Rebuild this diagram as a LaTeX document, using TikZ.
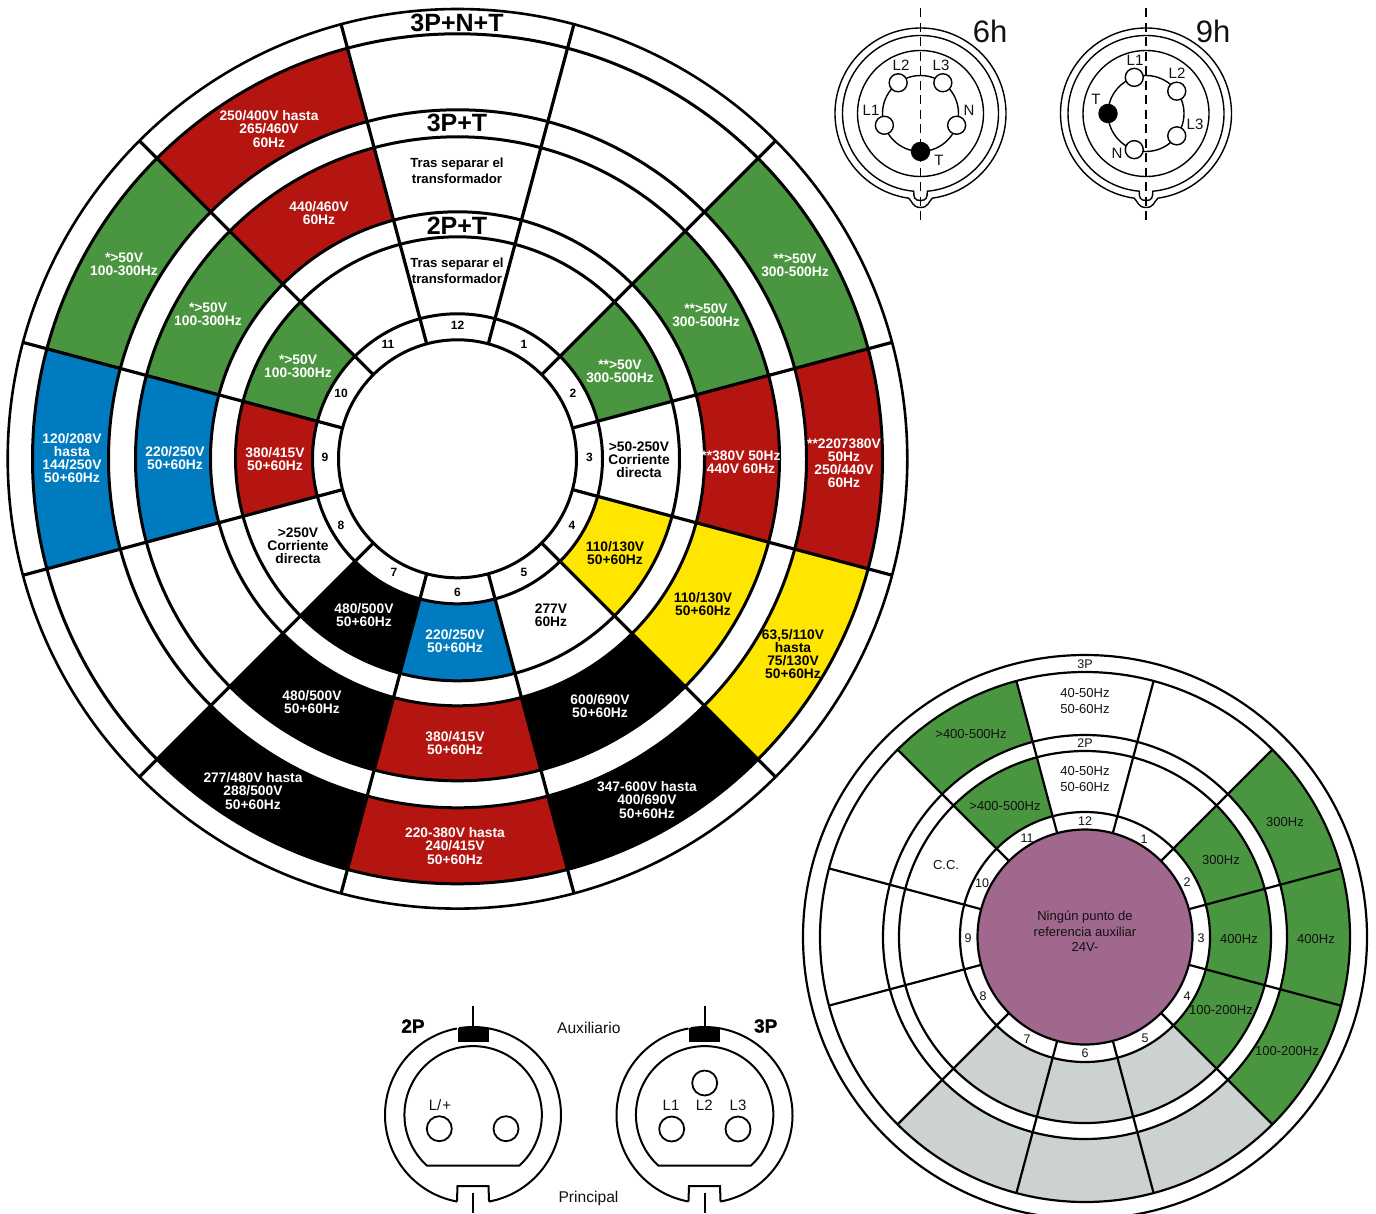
\documentclass[tikz,border=0pt]{standalone}
\usepackage{fontspec}
\setmainfont{Liberation Sans}
\newfontfamily\heavyfont[UprightFont={* Bold},FakeBold=1.6]{Liberation Sans}
\usetikzlibrary{positioning}
\definecolor{red}{HTML}{B51511}
\definecolor{green}{HTML}{4A953F}
\definecolor{blue}{HTML}{007BC0}
\definecolor{yellow}{HTML}{FFE600}
\definecolor{grey}{HTML}{CCD2CF}
\definecolor{mauve}{HTML}{A0688D}
\definecolor{ink}{HTML}{111111}

\begin{document}
\begin{tikzpicture}[
  x=1pt, y=1pt,
  ring/.style={draw=black, line width=3pt},
  ray/.style={draw=black, line width=3.2pt},
  thinring/.style={draw=black, line width=2.2pt},
  thinray/.style={draw=black, line width=2.2pt},
  wire/.style={draw=black, line width=1.4pt},
  plug/.style={draw=black, line width=2pt},
  contact/.style={circle, draw=black, fill=white, line width=1.4pt, minimum size=18pt, inner sep=0pt},
  bigpin/.style={circle, draw=black, fill=white, line width=1.8pt, minimum size=25pt, inner sep=0pt},
  txt/.style={align=center, inner sep=0pt, font=\fontsize{13.8}{13.1}\selectfont\bfseries},
  wl/.style={txt, text=white},
  bl/.style={txt, text=black},
  sep/.style={align=center, inner sep=0pt, font=\fontsize{13.2}{16}\selectfont\bfseries},
  head/.style={inner sep=0pt, font=\fontsize{25}{25}\selectfont\bfseries},
  num/.style={inner sep=0pt, font=\fontsize{12}{12}\selectfont\bfseries},
  sm/.style={align=center, inner sep=0pt, text=ink, font=\fontsize{13}{15.5}\selectfont},
  smnum/.style={inner sep=0pt, text=ink, font=\fontsize{12.5}{13}\selectfont},
  pinlab/.style={inner sep=0pt, text=ink, font=\fontsize{15}{15}\selectfont},
  side/.style={inner sep=0pt, text=ink, font=\fontsize{15.6}{15.6}\selectfont},
  polecount/.style={inner sep=0pt, font=\fontsize{19}{19}\heavyfont},
  hours/.style={inner sep=0pt, text=ink, font=\fontsize{31}{31}\selectfont}
]
  \clip (0,-1213) rectangle (1376,0);

  % big wheel
  \begin{scope}[shift={(457.5,-458.8)}]
    \foreach \h/\ci/\cm/\co in {2/green/green/green, 3/white/red/red, 4/yellow/yellow/yellow,
      5/white/black/black, 6/blue/red/red, 7/black/black/black, 9/red/blue/blue,
      10/green/green/green, 11/white/red/red}
    {
      \pgfmathsetmacro{\a}{105-30*\h}
      \pgfmathsetmacro{\b}{75-30*\h}
      \foreach \ri/\ro/\c in {145/222/\ci, 247/322/\cm, 349/425/\co}
        \fill[\c] (\a:\ri) arc[start angle=\a, end angle=\b, radius=\ri pt] -- (\b:\ro)
          arc[start angle=\b, end angle=\a, radius=\ro pt] -- cycle;
    }
    \foreach \r in {119,145,222,247,322,349,425}
      \draw[ring] (0,0) circle[radius=\r pt];
    \draw[thinring, line width=2.6pt] (0,0) circle[radius=449.8pt];
    \foreach \h in {1,...,12}
      \draw[ray] ({105-30*\h}:119) -- ({105-30*\h}:449.8);
  \end{scope}
  \foreach \h/\px/\py in {1/524/344, 2/573/393, 3/589.5/457, 4/572/525, 5/524/572, 6/457.5/592,
    7/394/572, 8/341/525, 9/325/457, 10/341/393, 11/388/344, 12/457.5/325}
    \node[num] (num\h) at (\px,-\py) {\h};

  \node[head] (headA) at (457,-23) {3P+N+T};
  \node[head] (headB) at (457,-123) {3P+T};
  \node[head] (headC) at (457,-226) {2P+T};

  \node[sep] (m12) at (457,-170.5) {Tras separar el\\transformador};
  \node[sep] (i12) at (457,-270.5) {Tras separar el\\transformador};
  \node[wl] (o11) at (269,-129) {250/400V hasta\\265/460V\\60Hz};
  \node[wl] (m11) at (319,-213) {440/460V\\60Hz};
  \node[wl] (o10) at (124,-264) {*>50V\\100-300Hz};
  \node[wl] (m10) at (208,-314) {*>50V\\100-300Hz};
  \node[wl] (i10) at (298,-366) {*>50V\\100-300Hz};
  \node[wl] (i2) at (620,-371) {**>50V\\300-500Hz};
  \node[wl] (m2) at (706,-315) {**>50V\\300-500Hz};
  \node[wl] (o2) at (795,-265) {**>50V\\300-500Hz};
  \node[bl] (i3) at (639,-460) {>50-250V\\Corriente\\directa};
  \node[wl] (m3) at (741,-462) {**380V 50Hz\\440V 60Hz};
  \node[wl] (o3) at (844,-463) {**2207380V\\50Hz\\250/440V\\60Hz};
  \node[bl] (i4) at (615,-553) {110/130V\\50+60Hz};
  \node[bl] (m4) at (703,-604) {110/130V\\50+60Hz};
  \node[bl] (o4) at (793,-654) {63,5/110V\\hasta\\75/130V\\50+60Hz};
  \node[bl] (i5) at (551,-615) {277V\\60Hz};
  \node[wl] (m5) at (600,-706.5) {600/690V\\50+60Hz};
  \node[wl] (o5) at (647,-800) {347-600V hasta\\400/690V\\50+60Hz};
  \node[wl] (i6) at (455,-641) {220/250V\\50+60Hz};
  \node[wl] (m6) at (455,-743) {380/415V\\50+60Hz};
  \node[wl] (o6) at (455,-846) {220-380V hasta\\240/415V\\50+60Hz};
  \node[wl] (i7) at (364,-615) {480/500V\\50+60Hz};
  \node[wl] (m7) at (312,-702) {480/500V\\50+60Hz};
  \node[wl] (o7) at (253,-791) {277/480V hasta\\288/500V\\50+60Hz};
  \node[bl] (i8) at (298,-545.5) {>250V\\Corriente\\directa};
  \node[wl] (i9) at (275,-459) {380/415V\\50+60Hz};
  \node[wl] (m9) at (175,-458) {220/250V\\50+60Hz};
  \node[wl] (o9) at (72,-458) {120/208V\\hasta\\144/250V\\50+60Hz};

  % small wheel
  \begin{scope}[shift={(1085,-937)}]
    \foreach \h/\c in {2/green, 3/green, 4/green, 5/grey, 6/grey, 7/grey, 11/green}
    {
      \pgfmathsetmacro{\a}{105-30*\h}
      \pgfmathsetmacro{\b}{75-30*\h}
      \foreach \ri/\ro in {125/186, 202/265}
        \fill[\c] (\a:\ri) arc[start angle=\a, end angle=\b, radius=\ri pt] -- (\b:\ro)
          arc[start angle=\b, end angle=\a, radius=\ro pt] -- cycle;
    }
    \foreach \r in {125,186,202,265,282}
      \draw[thinring] (0,0) circle[radius=\r pt];
    \foreach \h in {1,...,12}
      \draw[thinray] ({105-30*\h}:107) -- ({105-30*\h}:265);
    \node[circle, thinring, fill=mauve, minimum size=215pt, inner sep=0pt] (hub) at (0,0) {};
  \end{scope}
  \foreach \h/\px/\py in {1/1144/839, 2/1187/882, 3/1201/938, 4/1187/996, 5/1145/1038, 6/1085/1053,
    7/1027/1039, 8/983/996, 9/968/938, 10/982/883, 11/1027/838, 12/1085/821}
    \node[smnum] (tick\h) at (\px,-\py) {\h};

  \node[sm] (hubtext) at (1085,-931.5) {Ningún punto de\\referencia auxiliar\\24V-};
  \node[smnum] (smallA) at (1085,-664) {3P};
  \node[smnum] (smallB) at (1085,-743) {2P};
  \node[sm] (s12o) at (1085,-701) {40-50Hz\\50-60Hz};
  \node[sm] (s12i) at (1085,-779) {40-50Hz\\50-60Hz};
  \node[sm] (s11o) at (971,-734.5) {>400-500Hz};
  \node[sm] (s11i) at (1005,-806.5) {>400-500Hz};
  \node[sm] (s10) at (946,-865) {C.C.};
  \node[sm] (s2o) at (1285,-822.5) {300Hz};
  \node[sm] (s2i) at (1221,-860.5) {300Hz};
  \node[sm] (s3i) at (1239,-939.5) {400Hz};
  \node[sm] (s3o) at (1316,-939.5) {400Hz};
  \node[sm] (s4i) at (1221,-1010.5) {100-200Hz};
  \node[sm] (s4o) at (1287,-1051.5) {100-200Hz};

  % 6h and 9h connectors
  \foreach \cx/\name/\turn in {920.5/six/0, 1146/nine/-90}
  {
    \begin{scope}[shift={(\cx,-113.5)}]
      \draw[wire] (-82:85.5) arc[start angle=-82, end angle=262, radius=85.5pt]
        .. controls (-8,-88) and (-8,-94) .. (0,-94) .. controls (8,-94) and (8,-88) .. cycle;
      \draw[wire] (-85:78) arc[start angle=-85, end angle=265, radius=78pt]
        .. controls (-6.8,-84) and (-6,-87) .. (0,-87) .. controls (6,-87) and (6.8,-84) .. cycle;
      \draw[wire] (0,0) circle[radius=63pt];
      \draw[wire] (0,0) circle[radius=38pt];
      \draw[wire, line width=1.2pt, dash pattern=on 9pt off 5.5pt] (0,105.5) -- (0,-111.5);
      \foreach \p/\ang in {L1/198, L2/126, L3/54, N/342}
        \node[contact] (\name\p) at ({\ang+\turn}:38) {};
      \node[contact, fill=black] (\name T) at ({270+\turn}:38) {};
    \end{scope}
  }
  \node[hours] (sixh) at (990,-31) {6h};
  \node[hours] (nineh) at (1213,-31) {9h};
  \node[pinlab] (labA) at (901,-65) {L2};
  \node[pinlab] (labB) at (941,-65) {L3};
  \node[pinlab] (labC) at (871,-110) {L1};
  \node[pinlab] (labD) at (969,-110) {N};
  \node[pinlab] (labE) at (939,-160) {T};
  \node[pinlab] (labF) at (1135,-60) {L1};
  \node[pinlab] (labG) at (1177,-73) {L2};
  \node[pinlab] (labH) at (1195,-124) {L3};
  \node[pinlab] (labI) at (1117,-153) {N};
  \node[pinlab] (labJ) at (1096,-99) {T};

  % 2P and 3P connectors
  \foreach \cx/\name in {473/two, 704.5/three}
  {
    \begin{scope}[shift={(\cx,-1115)}]
      \draw[plug] (-100.5:88) arc[start angle=-100.5, end angle=-259.5, radius=88pt];
      \draw[plug] (-79.5:88) arc[start angle=-79.5, end angle=99, radius=88pt];
      \draw[plug] (-100.5:88) -- (-15.5,-71) -- (15.5,-71) -- (-79.5:88);
      \draw[plug] (-46,-50.7) arc[start angle=-132.2, end angle=-407.8, radius=68.7pt] -- cycle;
      \fill[black] (-15.5,87) rectangle (15.5,73);
      \draw[plug] (0,109) -- (0,87);
      \draw[plug] (0,-78) -- (0,-98);
    \end{scope}
  }
  \node[bigpin] (twoA) at (439.3,-1128.7) {};
  \node[bigpin] (twoB) at (506,-1128.7) {};
  \node[bigpin] (threeA) at (671.7,-1129) {};
  \node[bigpin] (threeB) at (738,-1129) {};
  \node[bigpin] (threeC) at (704.7,-1083) {};
  \node[pinlab] (labK) at (440,-1105) {L/\kern1pt+};
  \node[pinlab] (labL) at (671,-1105) {L1};
  \node[pinlab] (labM) at (704.3,-1105) {L2};
  \node[pinlab] (labN) at (738,-1105) {L3};
  \node[polecount] (twoP) at (413,-1026) {2P};
  \node[polecount] (threeP) at (765.7,-1026) {3P};
  \node[side] (aux) at (588.8,-1027.7) {Auxiliario};
  \node[side] (main) at (588.5,-1198) {Principal};
\end{tikzpicture}
\end{document}
